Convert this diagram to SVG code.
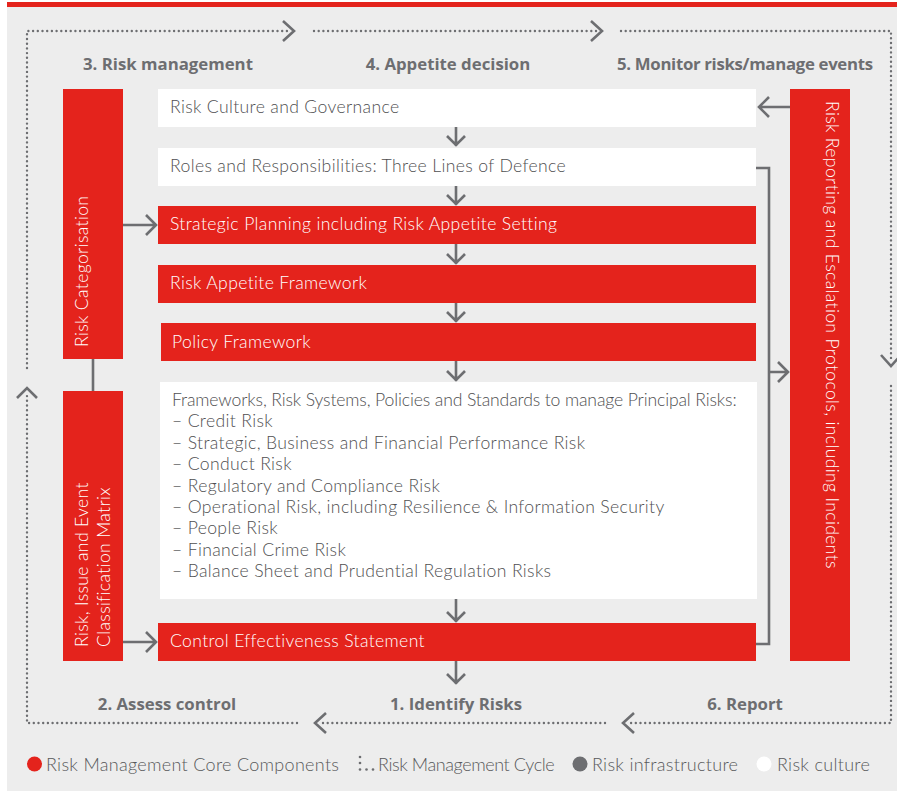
<svg xmlns="http://www.w3.org/2000/svg" width="897" height="791" viewBox="0 0 897 791">
  <style>
    .bg { fill: #ededed; }
    .red { fill: #e4231c; }
    .white { fill: #ffffff; }
    .txt { font-family: Lato, "Open Sans", "Liberation Sans", sans-serif; font-size: 17.6px; font-weight: 300; letter-spacing: 0.35px; }
    .dark { fill: #4f4f51; }
    .light { fill: #ffffff; }
    .stage { font-family: "Open Sans", "Liberation Sans", sans-serif; font-size: 16.8px; font-weight: 700; fill: #6d6e71; }
    .legend { font-family: Lato, "Open Sans", "Liberation Sans", sans-serif; font-size: 18px; font-weight: 300; letter-spacing: 0.3px; fill: #58595b; }
    .cycle { fill: none; stroke: #6d6e71; stroke-width: 2.4; stroke-linecap: round; stroke-dasharray: 0 4.7; }
    .chev { fill: none; stroke: #6d6e71; stroke-width: 2.6; stroke-linejoin: miter; }
    .flow { fill: none; stroke: #6d6e71; stroke-width: 2.6; }
  </style>

  <!-- panel and header rule -->
  <rect class="bg" x="7" y="7" width="890" height="784"/>
  <rect class="red" x="7" y="2" width="890" height="5"/>

  <!-- risk management cycle (dotted loop) -->
  <g id="cycle">
    <path class="cycle" d="M27,368 V31 H289"/>
    <polyline class="chev" points="283,21 294,31 283,41"/>
    <path class="cycle" d="M314,31 H597"/>
    <polyline class="chev" points="591,21 602,31 591,41"/>
    <path class="cycle" d="M621,31 H891 V358"/>
    <polyline class="chev" points="881,355 891,366 901,355"/>
    <path class="cycle" d="M891,386 V723 H629"/>
    <polyline class="chev" points="634,713 623,723 634,733"/>
    <path class="cycle" d="M605,723 H320"/>
    <polyline class="chev" points="326,713 315,723 326,733"/>
    <path class="cycle" d="M297,723 H27 V394"/>
    <polyline class="chev" points="17,398 27,388 37,398"/>
  </g>

  <!-- stage labels -->
  <g id="stages">
    <text class="stage" x="83" y="70">3. Risk management</text>
    <text class="stage" x="448" y="70" text-anchor="middle">4. Appetite decision</text>
    <text class="stage" x="745" y="70" text-anchor="middle" textLength="256">5. Monitor risks/manage events</text>
    <text class="stage" x="167" y="710" text-anchor="middle">2. Assess control</text>
    <text class="stage" x="456" y="710" text-anchor="middle">1. Identify Risks</text>
    <text class="stage" x="745" y="710" text-anchor="middle">6. Report</text>
  </g>

  <!-- connectors -->
  <g id="connectors">
    <!-- down arrows through the central column -->
    <path class="flow" d="M456,127 V146 M447,136 L456,145 L465,136"/>
    <path class="flow" d="M456,186 V205 M447,195 L456,204 L465,195"/>
    <path class="flow" d="M456,244 V264 M447,254 L456,263 L465,254"/>
    <path class="flow" d="M456,303 V322 M447,312 L456,321 L465,312"/>
    <path class="flow" d="M456,361 V381 M447,371 L456,380 L465,371"/>
    <path class="flow" d="M456,599 V622 M447,612 L456,621 L465,612"/>
    <path class="flow" d="M456,661 V684 M447,674 L456,683 L465,674"/>
    <!-- left column feeds -->
    <path class="flow" d="M93,359 V391"/>
    <path class="flow" d="M123,225 H156 M146,215 L156,225 L146,235"/>
    <path class="flow" d="M123,642 H156 M146,632 L156,642 L146,652"/>
    <!-- reporting column -->
    <path class="flow" d="M790,107 H759 M769,97 L759,107 L769,117"/>
    <path class="flow" d="M756,168 H769 V644 H756"/>
    <path class="flow" d="M769,372 H788 M778,362 L788,372 L778,382"/>
  </g>

  <!-- left column -->
  <g id="risk-categorisation">
    <rect class="red" x="63" y="89" width="60" height="270"/>
    <text class="txt light" transform="translate(88,347) rotate(-90)">Risk Categorisation</text>
  </g>
  <g id="classification-matrix">
    <rect class="red" x="63" y="391" width="60" height="270"/>
    <text class="txt light" transform="translate(88,647) rotate(-90)">Risk, Issue and Event</text>
    <text class="txt light" transform="translate(110,647) rotate(-90)">Classification Matrix</text>
  </g>

  <!-- central column -->
  <g id="risk-culture">
    <rect class="white" x="158" y="89" width="598" height="38"/>
    <text class="txt dark" x="170" y="113">Risk Culture and Governance</text>
  </g>
  <g id="roles">
    <rect class="white" x="158" y="148" width="598" height="38"/>
    <text class="txt dark" x="170" y="172">Roles and Responsibilities: Three Lines of Defence</text>
  </g>
  <g id="strategic-planning">
    <rect class="red" x="158" y="206" width="598" height="38"/>
    <text class="txt light" x="170" y="230">Strategic Planning including Risk Appetite Setting</text>
  </g>
  <g id="appetite-framework">
    <rect class="red" x="158" y="265" width="598" height="38"/>
    <text class="txt light" x="170" y="289">Risk Appetite Framework</text>
  </g>
  <g id="policy-framework">
    <rect class="red" x="161" y="323" width="595" height="38"/>
    <text class="txt light" x="172" y="348">Policy Framework</text>
  </g>
  <g id="principal-risks">
    <rect class="white" x="160" y="382" width="597" height="217"/>
    <text class="txt dark" x="172" y="406">
      <tspan x="172" y="406" textLength="565">Frameworks, Risk Systems, Policies and Standards to manage Principal Risks:</tspan>
      <tspan x="172" dy="21.4">– Credit Risk</tspan>
      <tspan x="172" dy="21.4">– Strategic, Business and Financial Performance Risk</tspan>
      <tspan x="172" dy="21.4">– Conduct Risk</tspan>
      <tspan x="172" dy="21.4">– Regulatory and Compliance Risk</tspan>
      <tspan x="172" dy="21.4">– Operational Risk, including Resilience &amp; Information Security</tspan>
      <tspan x="172" dy="21.4">– People Risk</tspan>
      <tspan x="172" dy="21.4">– Financial Crime Risk</tspan>
      <tspan x="172" dy="21.4">– Balance Sheet and Prudential Regulation Risks</tspan>
    </text>
  </g>
  <g id="control-effectiveness">
    <rect class="red" x="158" y="623" width="598" height="38"/>
    <text class="txt light" x="170" y="647">Control Effectiveness Statement</text>
  </g>

  <!-- right column -->
  <g id="risk-reporting">
    <rect class="red" x="790" y="89" width="60" height="572"/>
    <text class="txt light" transform="translate(826,101) rotate(90)">Risk Reporting and Escalation Protocols, including Incidents</text>
  </g>

  <!-- key -->
  <g id="legend">
    <circle class="red" cx="34.5" cy="764" r="7.5"/>
    <text class="legend" x="46" y="771">Risk Management Core Components</text>
    <g fill="#6d6e71">
      <circle cx="360" cy="757" r="1.3"/>
      <circle cx="360" cy="763" r="1.3"/>
      <circle cx="360" cy="769.5" r="1.3"/>
      <circle cx="366.5" cy="769.5" r="1.3"/>
      <circle cx="373" cy="769.5" r="1.3"/>
    </g>
    <text class="legend" x="378" y="771" textLength="177">Risk Management Cycle</text>
    <circle cx="580" cy="764" r="7.5" fill="#6d6e71"/>
    <text class="legend" x="592" y="771">Risk infrastructure</text>
    <circle cx="764" cy="764" r="7.5" fill="#ffffff"/>
    <text class="legend" x="777" y="771">Risk culture</text>
  </g>
</svg>
